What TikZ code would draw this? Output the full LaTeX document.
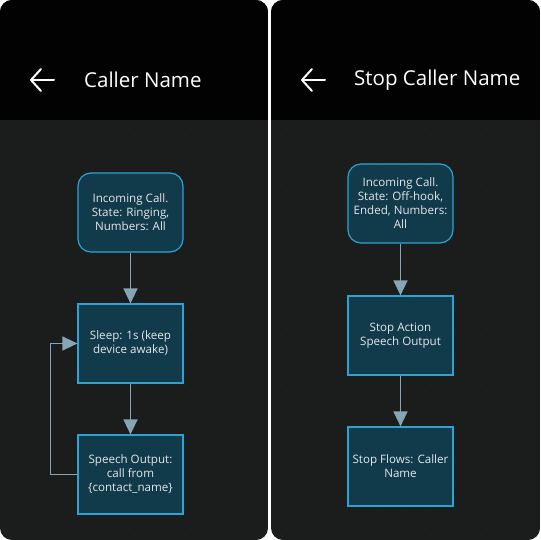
\documentclass[tikz,border=0pt]{standalone}
\usepackage{fontspec}
\setmainfont{Open Sans}
\usetikzlibrary{arrows.meta}
\definecolor{hdr}{HTML}{020202}
\definecolor{bodybg}{HTML}{1B1D1D}
\definecolor{nodefill}{HTML}{113A4A}
\definecolor{nodeedge}{HTML}{2FA2D4}
\definecolor{arrowc}{HTML}{86A6B5}
\definecolor{txt}{HTML}{E4E8EA}
\definecolor{dotc}{HTML}{2A2D2D}
\tikzset{
  box/.style={draw=nodeedge, line width=1.2pt, fill=nodefill, minimum width=105pt, minimum height=79pt,
    text=txt, align=center, font=\fontsize{11.6}{14}\selectfont, inner sep=2pt},
  rbox/.style={box, rounded corners=13pt},
  flow/.style={draw=arrowc, line width=1.4pt, -{Triangle[width=14pt,length=15pt]}},
  title/.style={text=white, font=\fontsize{20.5}{24}\selectfont, anchor=west, inner sep=0pt},
  backarrow/.style={draw=white, line width=2pt, line cap=round, line join=round}
}
\begin{document}
\begin{tikzpicture}[x=1pt,y=-1pt]
\useasboundingbox (0,0) rectangle (540,540);
\fill[white] (0,0) rectangle (540,540);
% panels
\foreach \xa/\xb in {0/268, 271/540} {
  \begin{scope}
    \clip[rounded corners=12pt] (\xa,0) rectangle (\xb,540);
    \fill[bodybg] (\xa,0) rectangle (\xb,540);
    \fill[hdr] (\xa,0) rectangle (\xb,120);
    \foreach \i in {0,...,10} {
      \foreach \j in {0,...,16} {
        \fill[dotc] (\xa+10+\i*25, 135+\j*25) circle (0.6pt);
      }
    }
  \end{scope}
}
% headers
\coordinate (la1) at (31,80); \coordinate (la2) at (54,80);
\coordinate (lt1) at (41,69); \coordinate (lt2) at (41,91);
\draw[backarrow] (la1) -- (la2);
\draw[backarrow] (lt1) -- (la1) -- (lt2);
\node[title] (t1) at (84,80) {Caller Name};
\coordinate (ra1) at (302,80); \coordinate (ra2) at (325,80);
\coordinate (rt1) at (312,69); \coordinate (rt2) at (312,91);
\draw[backarrow] (ra1) -- (ra2);
\draw[backarrow] (rt1) -- (ra1) -- (rt2);
\node[title] (t2) at (354,80) {Stop Caller Name};
% left flow
\node[rbox] (a1) at (130.5,212.5) {Incoming Call.\\State: Ringing,\\Numbers: All};
\node[box] (a2) at (130.5,343.5) {Sleep: 1s (keep\\device awake)};
\node[box] (a3) at (130.5,474.5) {Speech Output:\\call from\\\{contact\_name\}};
\draw[flow] (a1) -- (a2);
\draw[flow] (a2) -- (a3);
\draw[flow] (a3.west) -- ++(-27,0) |- (a2.west);
% right flow
\node[rbox] (b1) at (400.5,203.5) {Incoming Call.\\State: Off-hook,\\Ended, Numbers:\\All};
\node[box] (b2) at (400.5,335.5) {Stop Action\\Speech Output};
\node[box] (b3) at (400.5,466.5) {Stop Flows: Caller\\Name};
\draw[flow] (b1) -- (b2);
\draw[flow] (b2) -- (b3);
\end{tikzpicture}
\end{document}
